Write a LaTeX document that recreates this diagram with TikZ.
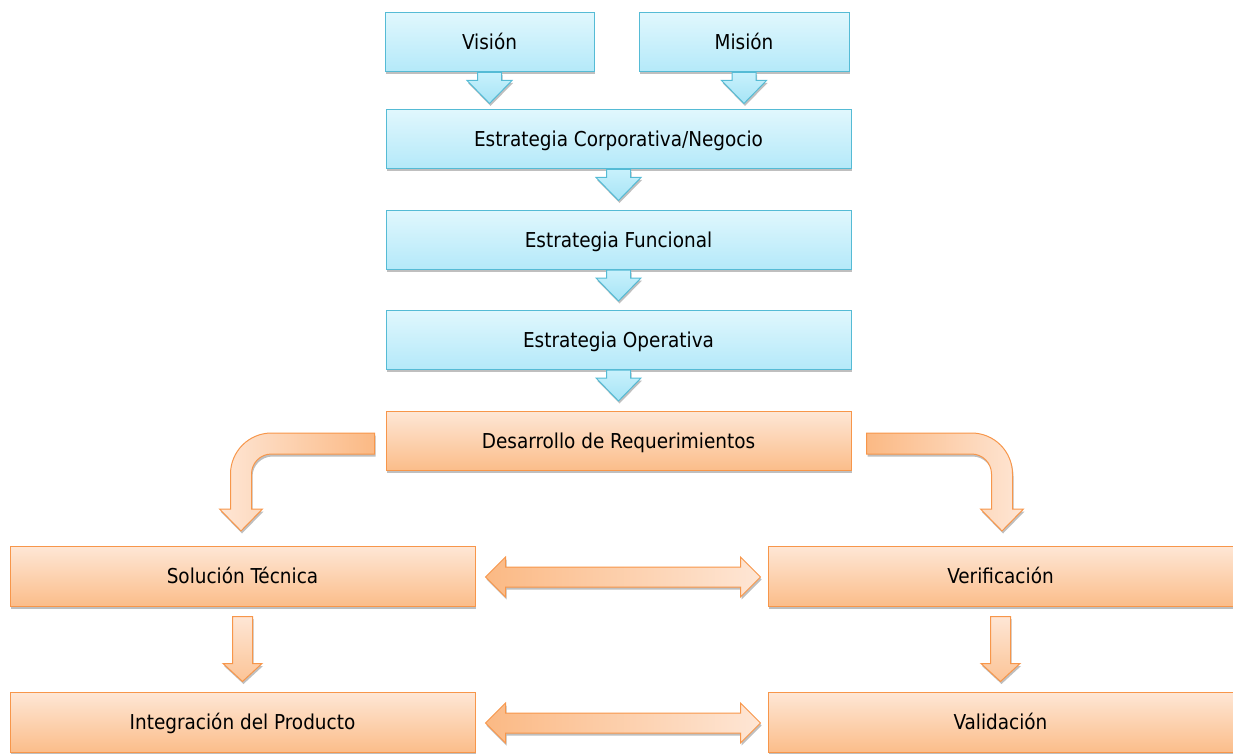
\documentclass[tikz,border=0pt]{standalone}
\usepackage{fontspec}
\setmainfont{DejaVu Sans Condensed}
\usetikzlibrary{calc,shadows}
\definecolor{bluetop}{HTML}{E0F7FD}
\definecolor{bluebot}{HTML}{B4E9F9}
\definecolor{blueline}{HTML}{55BBD5}
\definecolor{blueshaft}{HTML}{C8F1FC}
\definecolor{bluehead}{HTML}{A6E4F6}
\definecolor{orangetop}{HTML}{FEE7D6}
\definecolor{orangebot}{HTML}{FBBD8A}
\definecolor{orangeline}{HTML}{F7964A}
\definecolor{orangelite}{HTML}{FEE6D5}
\definecolor{orangedark}{HTML}{FBB984}
% down block arrow: style, start, length, head length, half shaft, half head
\newcommand{\dnarrow}[6]{%
  \draw[#1] ($(#2)+(-#5,0)$) -- ++(0,#3-#4) -- ++(#5-#6,0) -- ++(#6,#4)
    -- ++(#6,-#4) -- ++(#5-#6,0) -- ++(0,#4-#3) -- cycle;}
\begin{document}
\begin{tikzpicture}[x=1pt,y=-1pt,
  font=\fontsize{20.5}{24}\selectfont,
  shade/.style={drop shadow={shadow xshift=1pt,shadow yshift=-2.5pt,opacity=.25,fill=black}},
  bluebox/.style={draw=blueline,line width=1pt,top color=bluetop,bottom color=bluebot,
    minimum width=465pt,minimum height=59pt,inner sep=0pt,text height=19.5pt,text depth=4.5pt,shade},
  orangebox/.style={draw=orangeline,line width=1pt,top color=orangetop,bottom color=orangebot,
    minimum width=465pt,minimum height=60pt,inner sep=0pt,text height=19.5pt,text depth=4.5pt,shade},
  bluearrow/.style={draw=blueline,line width=1pt,top color=blueshaft,bottom color=bluehead,shade},
  orangearrow/.style={draw=orangeline,line width=1pt,top color=orangelite,bottom color=orangebot!85!orangetop,shade},
  sidearrow/.style={draw=orangeline,line width=1pt,shade}]
\useasboundingbox (0,0) rectangle (1233,754);

% strategy chain
\node[bluebox,minimum width=209pt] (vis) at (489.5,42.5) {Visión};
\node[bluebox,minimum width=210pt] (mis) at (744,42.5) {Misión};
\node[bluebox] (corp) at (618.5,139.5) {Estrategia Corporativa/Negocio};
\node[bluebox] (func) at (618.5,240) {Estrategia Funcional};
\node[bluebox] (oper) at (618.5,340) {Estrategia Operativa};

% development
\node[orangebox,minimum height=59pt] (req) at (618.5,440.5) {Desarrollo de Requerimientos};
\node[orangebox] (sol) at (242.5,576) {Solución Técnica};
\node[orangebox] (ver) at (1000.5,576) {Verificación};
\node[orangebox] (integ) at (242.5,722) {Integración del Producto};
\node[orangebox] (val) at (1000.5,722) {Validación};

\foreach \n in {vis.south,mis.south,corp.south,func.south,oper.south}{
  \dnarrow{bluearrow}{\n}{31}{23}{12}{22.5}
}

\dnarrow{orangearrow}{$(sol.south)+(0,10)$}{65}{18}{10}{19.5}
\dnarrow{orangearrow}{$(ver.south)+(0,10)$}{65}{18}{10}{19.5}

% bent arrows out of the requirements box
\draw[sidearrow,left color=orangelite,right color=orangedark]
  ($(req.west)+(-11,-7.5)$) -- ++(-103,0) arc[start angle=-90,end angle=-180,radius=41]
  -- ++(0,35) -- ++(-11,0) -- ++(21.5,22) -- ++(21.5,-22) -- ++(-11,0) -- ++(0,-35)
  arc[start angle=180,end angle=270,radius=20] -- ++(103,0) -- cycle;
\draw[sidearrow,left color=orangedark,right color=orangelite]
  ($(req.east)+(15,-7.5)$) -- ++(105,0) arc[start angle=-90,end angle=0,radius=41]
  -- ++(0,35) -- ++(11,0) -- ++(-21.5,22) -- ++(-21.5,-22) -- ++(11,0) -- ++(0,-35)
  arc[start angle=0,end angle=-90,radius=20] -- ++(-105,0) -- cycle;

% two-way arrows
\foreach \a/\b in {sol/ver,integ/val}{
  \draw[sidearrow,left color=orangedark,right color=orangelite]
    ($(\a.east)+(10,1)$) -- ++(20,-20) -- ++(0,10) -- ($(\b.west)+(-27,-9)$)
    -- ++(0,-10) -- ++(20,20) -- ++(-20,20) -- ++(0,-10) -- ($(\a.east)+(30,11)$)
    -- ++(0,10) -- cycle;
}
\end{tikzpicture}
\end{document}
